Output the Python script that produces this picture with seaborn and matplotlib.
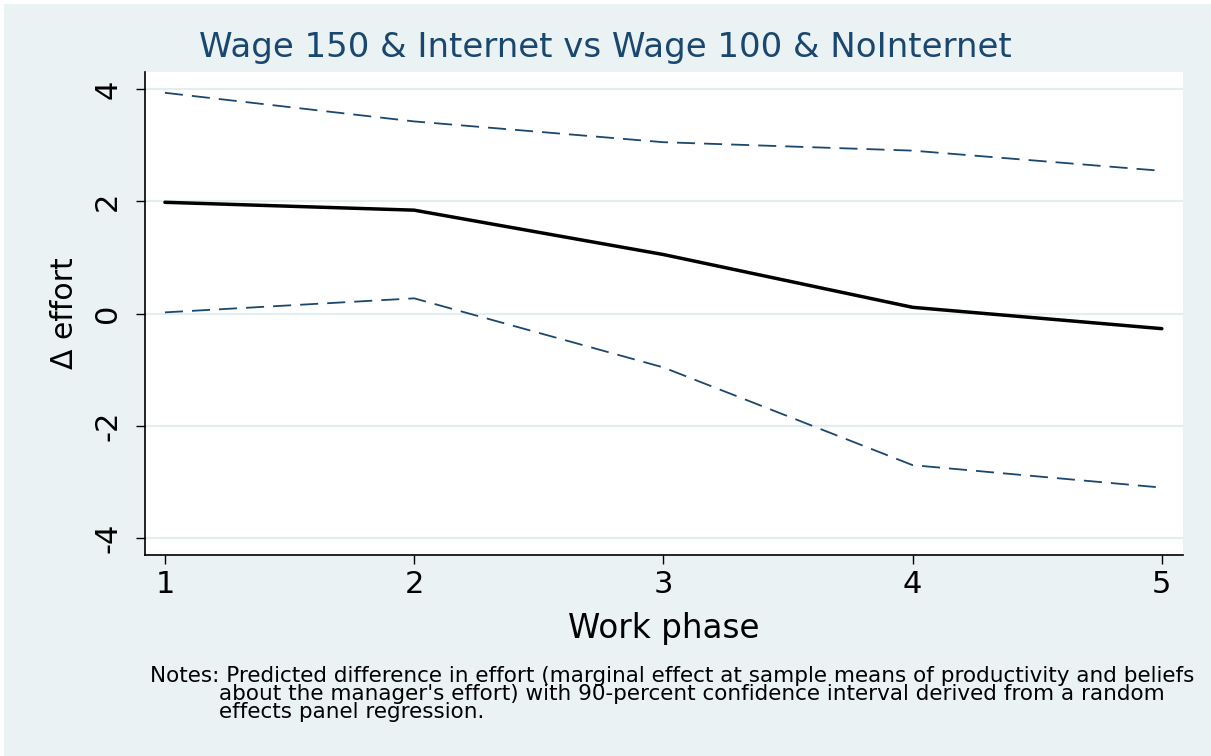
import numpy as np
import pandas as pd
import matplotlib.pyplot as plt
import seaborn as sns
from matplotlib.patches import Rectangle

# Werte
phase = [1, 2, 3, 4, 5]
effect = [1.98, 1.84, 1.05, 0.11, -0.27]
ci_upper = [3.93, 3.42, 3.05, 2.90, 2.54]
ci_lower = [0.02, 0.27, -0.96, -2.70, -3.10]
yticks = [-4, -2, 0, 2, 4]

title = "Wage 150 & Internet vs Wage 100 & NoInternet"
notes = ["Notes: Predicted difference in effort (marginal effect at sample means of productivity and beliefs",
         "about the manager's effort) with 90-percent confidence interval derived from a random",
         "effects panel regression."]

bg = "#EAF2F3"
navy = "#1A476F"
W, H = 1211, 756

sns.set_theme(style="white")
plt.rcParams['font.family'] = ['DejaVu Sans']
plt.rcParams['text.color'] = 'black'
plt.rcParams['axes.labelcolor'] = 'black'
plt.rcParams['xtick.color'] = 'black'
plt.rcParams['ytick.color'] = 'black'

df = pd.DataFrame({"phase": phase, "effect": effect, "upper": ci_upper, "lower": ci_lower})

fig = plt.figure(figsize=(W / 100, H / 100), dpi=100, facecolor=bg)
ax = fig.add_axes([145 / W, 1 - 555 / H, (1183 - 145) / W, (555 - 72) / H])
ax.set_facecolor("white")

# Gitterlinien
for y in yticks:
    ax.axhline(y, color="#E4EDF0", lw=1.6, zorder=0)

sns.lineplot(data=df, x="phase", y="upper", ax=ax, color=navy, lw=1.3)
sns.lineplot(data=df, x="phase", y="lower", ax=ax, color=navy, lw=1.3)
for l in ax.lines[-2:]:
    l.set_dashes((10, 5))
sns.lineplot(data=df, x="phase", y="effect", ax=ax, color="black", lw=2.5)

ax.set_xlim(0.92, 5.085)
ax.set_ylim(-4.3, 4.3)
ax.set_xticks(phase)
ax.set_yticks(yticks)
ax.set_yticklabels([str(v) for v in yticks], rotation=90, va="center")
ax.tick_params(axis="both", direction="out", length=6.5, width=1, color="black",
               labelcolor="black", labelsize=22, bottom=True, left=True)
ax.tick_params(axis="x", pad=4)
ax.tick_params(axis="y", pad=10)
for s in ["top", "right"]:
    ax.spines[s].set_visible(False)
for s in ["left", "bottom"]:
    ax.spines[s].set_color("black")
    ax.spines[s].set_linewidth(1.2)

ax.set_xlabel("Work phase", fontsize=23.5, labelpad=10, color="black")
ax.set_ylabel("Δ effort", fontsize=21.5, labelpad=10, color="black")
fig.text(0.5, 1 - 47 / H, title, ha="center", va="center", fontsize=24.5, color=navy)

fig.text(150 / W, 1 - 676 / H, notes[0], ha="left", va="center", fontsize=15.5, color="black")
fig.text(219 / W, 1 - 694 / H, notes[1], ha="left", va="center", fontsize=15.5, color="black")
fig.text(219 / W, 1 - 712 / H, notes[2], ha="left", va="center", fontsize=15.5, color="black")

# weisser Rand oben und links wie im Original
fig.patches.append(Rectangle((0, 1 - 4 / H), 1, 4 / H, transform=fig.transFigure,
                             facecolor="white", edgecolor="none"))
fig.patches.append(Rectangle((0, 0), 4 / W, 1, transform=fig.transFigure,
                             facecolor="white", edgecolor="none"))

fig.savefig("out.png", dpi=100, facecolor=bg)
